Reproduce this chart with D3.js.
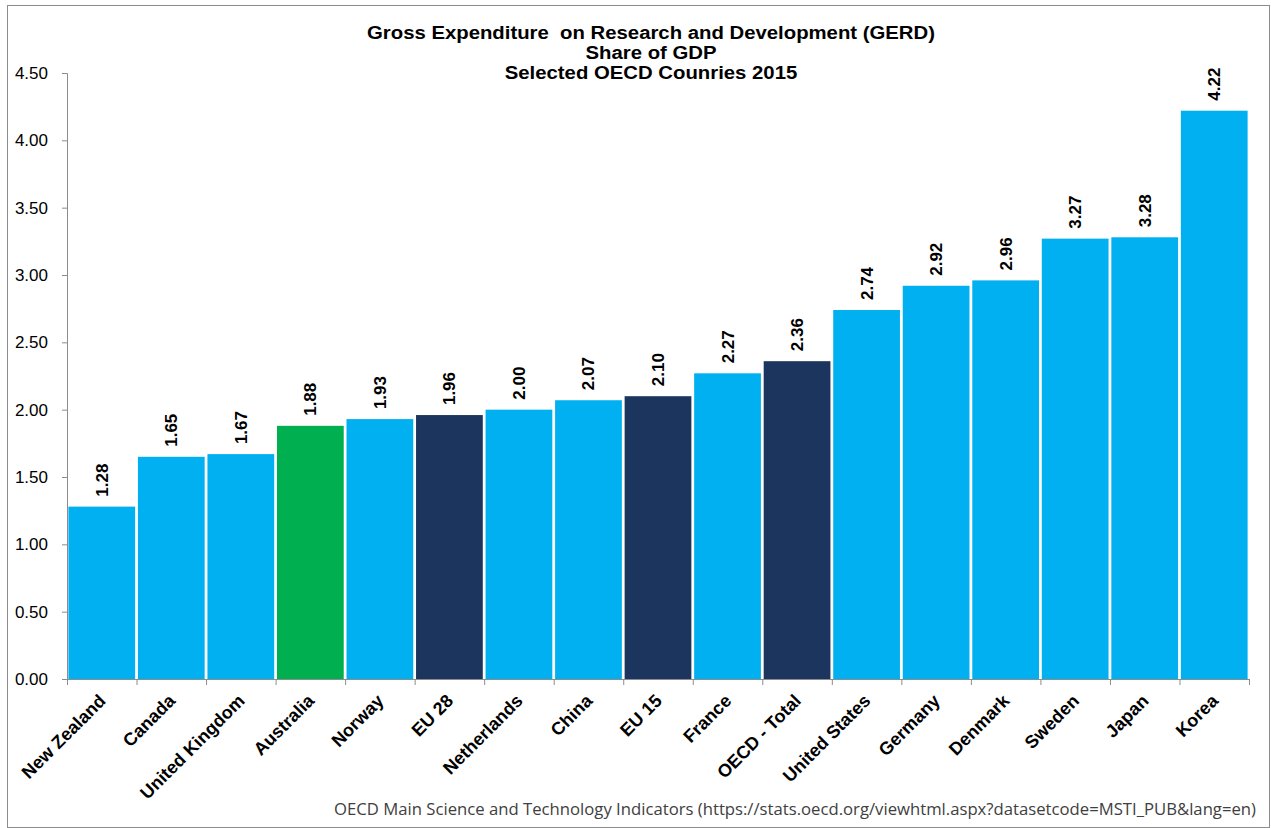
<!DOCTYPE html>
<html>
<head>
<meta charset="utf-8">
<script src="https://cdn.jsdelivr.net/npm/d3@7"></script>
<style>
  html, body { margin: 0; padding: 0; background: #fff; }
  svg { display: block; }
</style>
</head>
<body>
<svg id="chart" width="1271" height="828"></svg>
<script>
// GERD as a share of GDP, 2015
const countries = ["New Zealand", "Canada", "United Kingdom", "Australia", "Norway", "EU 28",
  "Netherlands", "China", "EU 15", "France", "OECD - Total", "United States", "Germany",
  "Denmark", "Sweden", "Japan", "Korea"];
const gerdShare = [1.28, 1.65, 1.67, 1.88, 1.93, 1.96, 2.00, 2.07, 2.10, 2.27, 2.36, 2.74,
  2.92, 2.96, 3.27, 3.28, 4.22];
const barGroup = ["country", "country", "country", "highlight", "country", "aggregate",
  "country", "country", "aggregate", "country", "aggregate", "country", "country",
  "country", "country", "country", "country"];
const yTicks = [0, 0.5, 1, 1.5, 2, 2.5, 3, 3.5, 4, 4.5];
const titleLines = ["Gross Expenditure  on Research and Development (GERD)", "Share of GDP",
  "Selected OECD Counries 2015"];
const sourceNote = "OECD Main Science and Technology Indicators (https://stats.oecd.org/viewhtml.aspx?datasetcode=MSTI_PUB&lang=en)";

const groupColor = { country: "#00b0f0", aggregate: "#1c355e", highlight: "#00b050" };
const arial = "'Liberation Sans', Arial, sans-serif";

const W = 1271, H = 828;
const margin = { left: 67, right: 22, top: 73, bottom: 149 };
const svg = d3.select("#chart");

// outer frame
svg.append("rect").attr("x", 7.5).attr("y", 5.5).attr("width", W - 9).attr("height", H - 6)
  .attr("fill", "none").attr("stroke", "#8c8c8c").attr("stroke-width", 1);

const x = d3.scaleBand().domain(countries).range([margin.left, W - margin.right])
  .paddingInner(0.04).paddingOuter(0.02);
const y = d3.scaleLinear().domain([0, 4.5]).range([H - margin.bottom, margin.top]);

// bars
svg.append("g").selectAll("rect").data(countries).join("rect")
  .attr("x", d => x(d))
  .attr("width", x.bandwidth())
  .attr("y", (d, i) => y(gerdShare[i]))
  .attr("height", (d, i) => y(0) - y(gerdShare[i]))
  .attr("fill", (d, i) => groupColor[barGroup[i]]);

// y axis
const yAxis = svg.append("g").attr("transform", `translate(${margin.left},0)`)
  .call(d3.axisLeft(y).tickValues(yTicks).tickFormat(d3.format(".2f"))
    .tickSizeOuter(0).tickSize(5).tickPadding(14));
yAxis.select(".domain").attr("stroke", "#8c8c8c");
yAxis.selectAll(".tick line").attr("stroke", "#8c8c8c");
yAxis.selectAll(".tick text").attr("fill", "#000")
  .style("font-family", arial).style("font-size", "17px");

// x axis: ticks at category boundaries
const bounds = d3.range(countries.length + 1)
  .map(i => margin.left + i * (W - margin.right - margin.left) / countries.length);
const xAxisG = svg.append("g");
xAxisG.append("line").attr("x1", margin.left).attr("x2", W - margin.right)
  .attr("y1", y(0) + 0.5).attr("y2", y(0) + 0.5).attr("stroke", "#8c8c8c");
xAxisG.selectAll("line.tk").data(bounds).join("line").attr("class", "tk")
  .attr("x1", d => d + 0.5).attr("x2", d => d + 0.5)
  .attr("y1", y(0)).attr("y2", y(0) + 6).attr("stroke", "#8c8c8c");

// category labels
svg.append("g").selectAll("text").data(countries).join("text")
  .attr("transform", d => `translate(${x(d) + x.bandwidth() / 2 + 5},${y(0) + 23}) rotate(-45)`)
  .attr("text-anchor", "end")
  .style("font-family", arial)
  .style("font-size", "18px").style("font-weight", "bold").attr("fill", "#000")
  .text(d => d);

// value labels
svg.append("g").selectAll("text").data(countries).join("text")
  .attr("transform", (d, i) => `translate(${x(d) + x.bandwidth() / 2 + 6},${y(gerdShare[i]) - 10}) rotate(-90)`)
  .attr("text-anchor", "start")
  .style("font-family", arial)
  .style("font-size", "17px").style("font-weight", "bold").attr("fill", "#000")
  .text((d, i) => d3.format(".2f")(gerdShare[i]));

// title, slightly widened
svg.append("g").attr("transform", "translate(651,0) scale(1.13,1)")
  .selectAll("text").data(titleLines).join("text")
  .attr("x", 0).attr("y", (d, i) => 39 + i * 20)
  .attr("text-anchor", "middle")
  .style("font-family", arial).style("white-space", "pre")
  .style("font-size", "18px").style("font-weight", "bold").attr("fill", "#000")
  .text(d => d);

// source
svg.append("text").attr("x", 1256).attr("y", 815).attr("text-anchor", "end")
  .style("font-family", "'Open Sans', 'Noto Sans', sans-serif").style("font-size", "16.7px")
  .attr("fill", "#404040").text(sourceNote);
</script>
</body>
</html>
